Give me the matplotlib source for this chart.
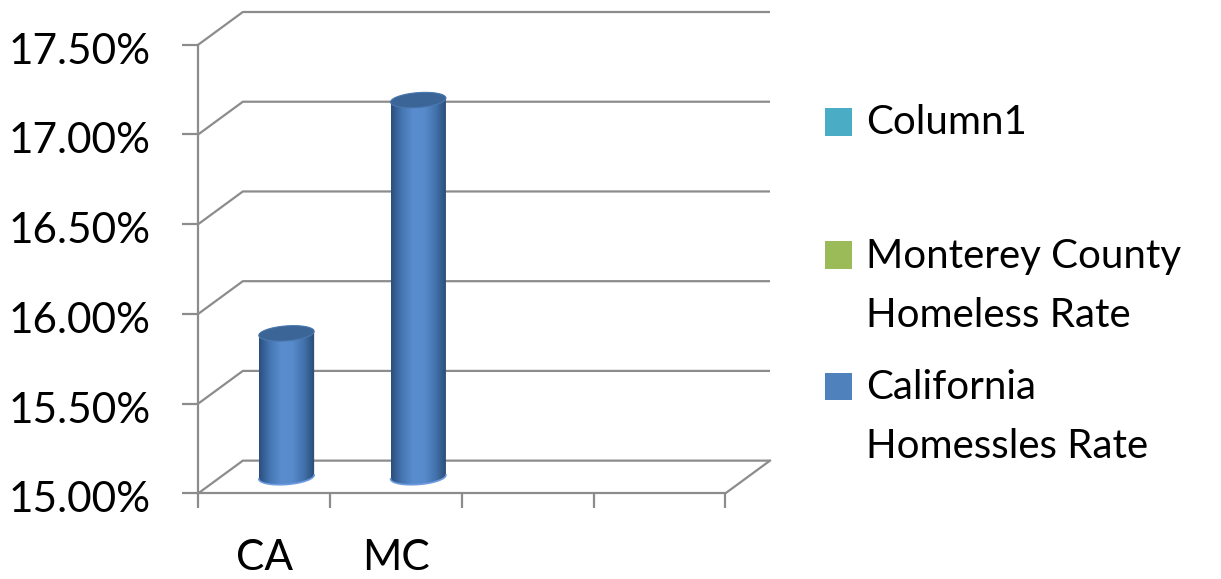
import numpy as np
import matplotlib
matplotlib.use("Agg")
import matplotlib.pyplot as plt
from matplotlib.patches import Polygon, Rectangle
from matplotlib.ticker import PercentFormatter
from matplotlib.colors import LinearSegmentedColormap
from matplotlib.transforms import ScaledTranslation

# data
categories = ["CA", "MC", "", ""]
california_rate = [0.158, 0.171]
series_names = ["Column1", "Monterey County\nHomeless Rate", "California\nHomessles Rate"]
series_colors = ["#4BACC6", "#9BBB59", "#4F81BD"]
y_ticks = [0.15, 0.155, 0.16, 0.165, 0.17, 0.175]

W, H = 1221, 579
GRID = "#8c8c8c"
FONT = "Lato"
FS = 30.5
FS_LEG = 29

# fake 3d depth, in data units
DX = 0.338
DY = 0.00182

plt.rcParams["font.family"] = [FONT, "DejaVu Sans"]

fig = plt.figure(figsize=(W / 100, H / 100), dpi=100)
ax = fig.add_axes([198.3 / W, (H - 493.3) / H, (770 - 198.3) / W, (493.3 - 12) / H])

n_cat = len(categories)
ymin, ymax = y_ticks[0], y_ticks[-1]

# back wall + side wall gridlines
for v in y_ticks:
    ax.plot([0, DX, n_cat + DX], [v, v + DY, v + DY], color=GRID, lw=1.6,
            solid_capstyle="butt", zorder=1, clip_on=False)
# floor right edge
ax.plot([n_cat, n_cat + DX], [ymin, ymin + DY], color=GRID, lw=1.6, zorder=1, clip_on=False)

# cylinders
px_per_y = (493.3 - 12) / (ymax + DY - ymin)
eh = 7.5 / px_per_y
tilt = 2.0 / px_per_y
hw = 0.21
body_cmap = LinearSegmentedColormap.from_list(
    "cyl", ["#2a4e7c", "#4677b4", "#5a8dcf", "#588bcb", "#4373ad", "#294a74"])

for i, v in enumerate(california_rate):
    c = i + 0.5 + DX / 2
    y0 = ymin + DY / 2
    y1 = v + DY / 2

    def ell(yc, tt):
        return c + hw * np.cos(tt), yc + eh * np.sin(tt) + tilt * np.cos(tt)

    lower = np.linspace(np.pi, 2 * np.pi, 60)
    upper = np.linspace(0, np.pi, 60)
    bx, by = ell(y0, lower)
    tx, ty = ell(y1, upper)
    body = Polygon(np.column_stack([np.r_[bx, tx], np.r_[by, ty]]), closed=True,
                   facecolor="none", edgecolor="none")
    ax.add_patch(body)
    grad = np.linspace(0, 1, 256)[None, :]
    im = ax.imshow(grad, cmap=body_cmap, aspect="auto", zorder=3,
                   extent=[c - hw, c + hw, y0 - eh - tilt, y1 + eh + tilt])
    im.set_clip_path(body)
    # light rim on the bottom edge
    ax.plot(bx, by, color="#6d9be0", lw=1.2, zorder=4)
    ex, ey = ell(y1, np.linspace(0, 2 * np.pi, 120))
    ax.add_patch(Polygon(np.column_stack([ex, ey]), closed=True,
                         facecolor="#3b6596", edgecolor="#4a78b0", lw=0.8, zorder=5))

ax.set_xlim(0, n_cat + DX)
ax.set_ylim(ymin, ymax + DY)

for side in ["top", "right"]:
    ax.spines[side].set_visible(False)
for side in ["left", "bottom"]:
    ax.spines[side].set_color(GRID)
    ax.spines[side].set_linewidth(1.6)
ax.spines["left"].set_bounds(ymin, ymax)
ax.spines["bottom"].set_bounds(0, n_cat)
ax.set_facecolor("none")

ax.set_yticks(y_ticks)
ax.yaxis.set_major_formatter(PercentFormatter(xmax=1, decimals=2))
ax.tick_params(axis="y", length=11.5, width=1.6, color=GRID, pad=23, labelsize=FS)
# excel sits the value labels a little below their tick
shift = ScaledTranslation(0, -2.5 / 72, fig.dpi_scale_trans)
for lab in ax.get_yticklabels():
    lab.set_transform(lab.get_transform() + shift)

ax.set_xticks(range(n_cat + 1))
ax.set_xticklabels([])
ax.tick_params(axis="x", which="major", length=10.8, width=1.6, color=GRID)
ax.set_xticks([k + 0.5 for k in range(n_cat)], minor=True)
ax.set_xticklabels(categories, minor=True)
ax.tick_params(axis="x", which="minor", length=0, pad=33, labelsize=FS)

# legend, laid out like the Excel one
legend_text_y = [123, 286, 417]
legend_box_y = [122, 255, 386]
for name, color, yt, yb in zip(series_names, series_colors, legend_text_y, legend_box_y):
    fig.patches.append(Rectangle((825 / W, (H - yb - 13.5) / H), 27 / W, 27 / H,
                                 transform=fig.transFigure, facecolor=color, edgecolor="none"))
    fig.text(866 / W, (H - yt) / H, name, fontsize=FS_LEG, va="center", ha="left",
             linespacing=1.72)

fig.savefig("out.png", dpi=100)
